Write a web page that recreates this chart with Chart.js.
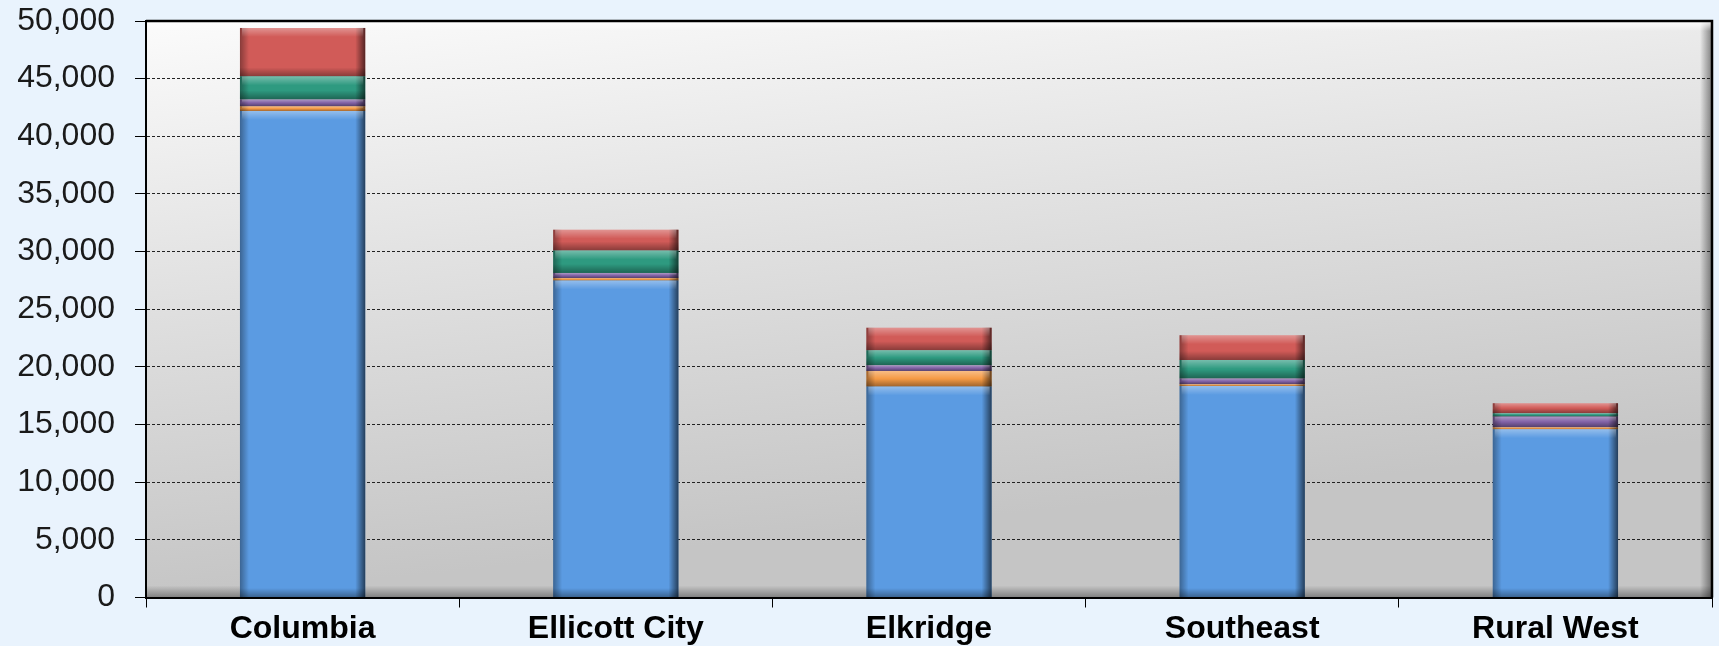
<!DOCTYPE html>
<html>
<head>
<meta charset="utf-8">
<script src="https://cdn.jsdelivr.net/npm/chart.js@4.4.0/dist/chart.umd.min.js"></script>
<style>
html,body{margin:0;padding:0;background:#E9F3FD;}
#wrap{width:1719px;height:646px;position:relative;}
</style>
</head>
<body>
<div id="wrap"><canvas id="c" width="1719" height="646"></canvas></div>
<script>
const categories = ['Columbia', 'Ellicott City', 'Elkridge', 'Southeast', 'Rural West'];
const seriesBlue   = [42200, 27500, 18300, 18350, 14600];
const seriesOrange = [400, 200, 1350, 150, 170];
const seriesPurple = [600, 450, 500, 500, 920];
const seriesGreen  = [2000, 1950, 1300, 1600, 300];
const seriesRed    = [4200, 1800, 1950, 2150, 860];
const yTicks = [0, 5000, 10000, 15000, 20000, 25000, 30000, 35000, 40000, 45000, 50000];

const plotBg = {
  id: 'plotBg',
  beforeDraw(chart) {
    const {ctx, chartArea: a} = chart;
    ctx.save();
    const g = ctx.createLinearGradient(a.left, a.top, a.left + 60, a.bottom);
    g.addColorStop(0, '#fbfbfb');
    g.addColorStop(0.45, '#e2e2e2');
    g.addColorStop(1, '#c5c5c5');
    ctx.fillStyle = g;
    ctx.fillRect(a.left, a.top, a.right - a.left, a.bottom - a.top);
    let s = ctx.createLinearGradient(a.right - 12, 0, a.right, 0);
    s.addColorStop(0, 'rgba(0,0,0,0)');
    s.addColorStop(1, 'rgba(0,0,0,0.45)');
    ctx.fillStyle = s; ctx.fillRect(a.right - 12, a.top, 12, a.bottom - a.top);
    s = ctx.createLinearGradient(0, a.bottom - 12, 0, a.bottom);
    s.addColorStop(0, 'rgba(0,0,0,0)');
    s.addColorStop(1, 'rgba(0,0,0,0.35)');
    ctx.fillStyle = s; ctx.fillRect(a.left, a.bottom - 12, a.right - a.left, 12);
    s = ctx.createLinearGradient(0, a.top, 0, a.top + 10);
    s.addColorStop(0, 'rgba(255,255,255,0.9)');
    s.addColorStop(1, 'rgba(255,255,255,0)');
    ctx.fillStyle = s; ctx.fillRect(a.left, a.top, a.right - a.left, 10);
    ctx.restore();
  },
  afterDraw(chart) {
    const {ctx, chartArea: a} = chart;
    ctx.save();
    ctx.strokeStyle = '#000';
    ctx.lineWidth = 2.5;
    ctx.beginPath();
    ctx.moveTo(a.left, a.top);
    ctx.lineTo(a.right, a.top);
    ctx.lineTo(a.right, a.bottom);
    ctx.stroke();
    ctx.restore();
  }
};

const bevel = {
  id: 'bevel',
  afterDatasetsDraw(chart) {
    const ctx = chart.ctx;
    ctx.save();
    chart.data.datasets.forEach((ds, di) => {
      const meta = chart.getDatasetMeta(di);
      meta.data.forEach(bar => {
        const l = bar.x - bar.width / 2, r = bar.x + bar.width / 2;
        const t = Math.min(bar.y, bar.base), b = Math.max(bar.y, bar.base);
        const h = b - t;
        if (h < 1) return;
        const e = Math.min(9, h / 2);
        let g = ctx.createLinearGradient(l, 0, l + 9, 0);
        g.addColorStop(0, 'rgba(0,0,0,0.35)');
        g.addColorStop(1, 'rgba(0,0,0,0)');
        ctx.fillStyle = g; ctx.fillRect(l, t, 9, h);
        g = ctx.createLinearGradient(r - 10, 0, r, 0);
        g.addColorStop(0, 'rgba(0,0,0,0)');
        g.addColorStop(1, 'rgba(0,0,0,0.6)');
        ctx.fillStyle = g; ctx.fillRect(r - 10, t, 10, h);
        g = ctx.createLinearGradient(0, t, 0, t + e);
        g.addColorStop(0, 'rgba(255,255,255,0.35)');
        g.addColorStop(1, 'rgba(255,255,255,0)');
        ctx.fillStyle = g; ctx.fillRect(l + 2, t, r - l - 4, e);
        g = ctx.createLinearGradient(0, b - e, 0, b);
        g.addColorStop(0, 'rgba(0,0,0,0)');
        g.addColorStop(1, 'rgba(0,0,0,0.35)');
        ctx.fillStyle = g; ctx.fillRect(l, b - e, r - l, e);
      });
    });
    ctx.restore();
  }
};

function ds(label, data, color) {
  return { label, data, backgroundColor: color, borderWidth: 0,
           barPercentage: 0.8, categoryPercentage: 0.5 };
}

new Chart(document.getElementById('c'), {
  type: 'bar',
  data: {
    labels: categories,
    datasets: [
      ds('Blue', seriesBlue, '#5B9BE2'),
      ds('Orange', seriesOrange, '#F59A45'),
      ds('Purple', seriesPurple, '#8262A6'),
      ds('Green', seriesGreen, '#2E9A80'),
      ds('Red', seriesRed, '#D15B58')
    ]
  },
  options: {
    responsive: false,
    animation: false,
    layout: { padding: { top: 21, right: 7, left: 0, bottom: 0 } },
    plugins: { legend: { display: false }, tooltip: { enabled: false } },
    scales: {
      x: {
        stacked: true,
        grid: { offset: true, drawOnChartArea: false, drawTicks: true, tickLength: 10, color: '#000', tickColor: '#000', lineWidth: 1 },
        border: { display: true, color: '#000', width: 2 },
        ticks: { color: '#000', font: { family: 'Liberation Sans, Arial', size: 32, weight: 'bold' }, padding: 2, maxRotation: 0 },
        afterFit(s) { s.height = 48.5; s.paddingLeft = 0; s.paddingRight = 0; }
      },
      y: {
        stacked: true,
        min: 0, max: 50000,
        afterBuildTicks(s) { s.ticks = yTicks.map(v => ({ value: v })); },
        grid: { color: '#222', lineWidth: 1, drawTicks: true, tickLength: 11, tickColor: '#000', tickBorderDash: [], borderDash: [3, 2] },
        border: { display: true, color: '#000', width: 2, dash: [3, 2] },
        ticks: { color: '#1a1a1a', font: { family: 'Liberation Sans, Arial', size: 32 }, padding: 20,
                 callback: v => Number(v).toLocaleString('en-US') },
        afterFit(s) { s.width = 146; s.paddingTop = 0; s.paddingBottom = 0; }
      }
    }
  },
  plugins: [plotBg, bevel]
});
</script>
</body>
</html>
